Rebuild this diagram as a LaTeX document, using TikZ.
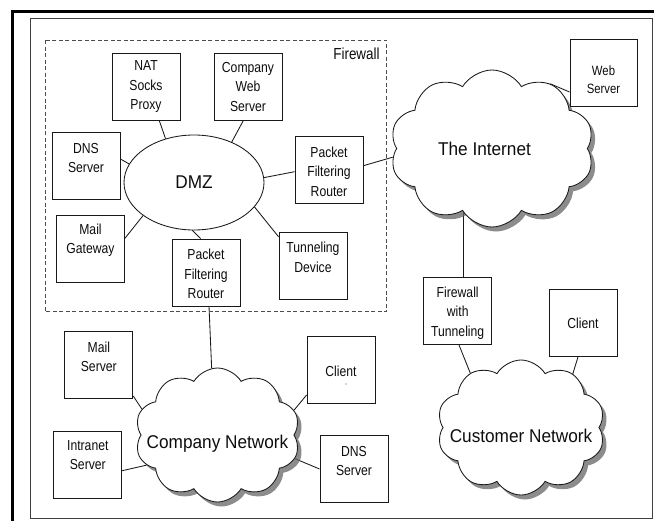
\documentclass[tikz,border=0pt]{standalone}
\usepackage{fontspec}
\newfontfamily\narrowsans[FakeStretch=0.84]{Liberation Sans}
\newfontfamily\cloudsans[FakeStretch=0.93]{Liberation Sans}
\usetikzlibrary{shapes.geometric,shapes.symbols,shadows}
\pgfdeclarelayer{background}
\pgfsetlayers{background,main}

\begin{document}
\begin{tikzpicture}[x=1pt,y=-1pt,
  box/.style={rectangle, draw=black!90, line width=0.85pt, fill=white,
    minimum width=68pt, minimum height=67pt, inner sep=0pt},
  boxtext/.style={align=center, text=black!95,
    font=\narrowsans\fontsize{14.5}{19.5}\selectfont},
  net/.style={cloud, draw=black!90, line width=0.85pt, fill=white,
    cloud puffs=10, cloud puff arc=118, cloud ignores aspect, inner sep=0pt,
    drop shadow={shadow xshift=4pt, shadow yshift=-4.5pt, fill=black!60, opacity=0.75}},
  bigtext/.style={text=black!95, font=\cloudsans\fontsize{18.5}{22}\selectfont},
  link/.style={draw=black!90, line width=0.85pt},
  zone/.style={draw=black!70, line width=0.8pt, dash pattern=on 4pt off 2.5pt},
  frame/.style={draw=black!75, line width=0.8pt},
]
\useasboundingbox (0,0) rectangle (654,520);

% page frames
\draw[line width=3pt, black] (12.3,522) -- (12.3,11) -- (656,11);
\draw[frame] (30,18.3) rectangle (652,518);

% firewall zone
\draw[zone] (45,40) rectangle (386.7,311.7);
\node[text=black!95, font=\narrowsans\fontsize{16}{19}\selectfont] (fwlabel) at (356.5,54) {Firewall};

% networks
\node[net, minimum width=204pt, minimum height=157pt,
  label={[bigtext,xshift=-7.5pt]center:The Internet}] (inet) at (492,148.5) {};
\node[net, minimum width=165pt, minimum height=134pt,
  label={[bigtext,yshift=-8.5pt]center:Company Network}] (comp) at (217.5,435) {};
\node[net, minimum width=168pt, minimum height=135pt,
  label={[bigtext,yshift=-8.3pt]center:Customer Network}] (cust) at (521,427.5) {};

% DMZ
\node[ellipse, draw=black!90, line width=0.85pt, fill=white, minimum width=140pt,
  minimum height=95pt, inner sep=0pt, bigtext] (dmz) at (194,182.5) {DMZ};

% hosts
\node[box, label={[boxtext]center:NAT\\Socks\\Proxy}] (nat) at (146,86.7) {};
\node[box, label={[boxtext]center:Company\\Web\\Server}] (cweb) at (248,86.7) {};
\node[box, label={[boxtext,yshift=7.5pt]center:DNS\\Server}] (dns1) at (86,165.5) {};
\node[box, label={[boxtext,yshift=-1.5pt]center:Packet\\Filtering\\Router}] (pfr1) at (329,170.3) {};
\node[box, label={[boxtext,yshift=9pt]center:Mail\\Gateway}] (mailgw) at (90.5,249) {};
\node[box, label={[boxtext,yshift=-1.5pt]center:Packet\\Filtering\\Router}] (pfr2) at (206,272.5) {};
\node[box, label={[boxtext,yshift=8.3pt]center:Tunneling\\Device}] (tun) at (313,265.8) {};
\node[box, minimum width=67pt, label={[boxtext,font=\narrowsans\fontsize{13.5}{18}\selectfont,yshift=-6pt]center:Web\\Server}] (web) at (603.5,73.3) {};
\node[box, label={[boxtext,yshift=-2pt]center:Firewall\\with\\Tunneling}] (fwt) at (457.7,311) {};
\node[box, label={[boxtext]center:Client}] (client2) at (583,323) {};
\node[box, label={[boxtext,yshift=8pt]center:Mail\\Server}] (mailsrv) at (98.8,364.7) {};
\node[box, label={[boxtext,yshift=9.5pt]center:Intranet\\Server}] (intranet) at (87.8,464.5) {};
\node[box, label={[boxtext,yshift=-1.5pt]center:Client}] (client1) at (341,370) {};
\node[circle, fill=black!75, inner sep=0pt, minimum size=1.4pt] (client1dot) at (346,384) {};
\node[box, label={[boxtext,yshift=8pt]center:DNS\\Server}] (dns2) at (354,469) {};

\coordinate (fwtop) at ([xshift=5.3pt]fwt.north);

% links
\begin{pgfonlayer}{background}
\draw[link] ([xshift=13.3pt]nat.south) -- (dmz.123);
\draw[link] ([xshift=-4.7pt]cweb.south) -- (dmz.47);
\draw[link] ([yshift=6.5pt]dns1.east) -- (dmz.164);
\draw[link] ([yshift=10.7pt]mailgw.east) -- (dmz.213);
\draw[link] ([xshift=-5.3pt]pfr2.north) -- (dmz.268);
\draw[link] ([yshift=29pt]tun.west) -- (dmz.338);
\draw[link] ([yshift=-1.4pt]pfr1.west) -- (dmz.4);
\draw[link] ([yshift=4.6pt]pfr1.east) -- (inet.185);
\draw[link] ([yshift=-18.7pt]web.west) -- (inet.48);
\draw[link] (fwtop) -- (fwtop |- inet.center);
\draw[link] ([xshift=1.3pt]fwt.south) -- (cust.133);
\draw[link] ([xshift=-5pt]client2.south) -- (cust.46);
\draw[link] ([xshift=3pt]pfr2.south) -- (comp.95);
\draw[link] ([yshift=-31.3pt]mailsrv.east) -- (comp.161);
\draw[link] ([yshift=-6.2pt]intranet.east) -- (comp.203);
\draw[link] ([yshift=-25pt]client1.west) -- (comp.18);
\draw[link] (dns2.west) -- (comp.343);
\end{pgfonlayer}
\end{tikzpicture}
\end{document}
